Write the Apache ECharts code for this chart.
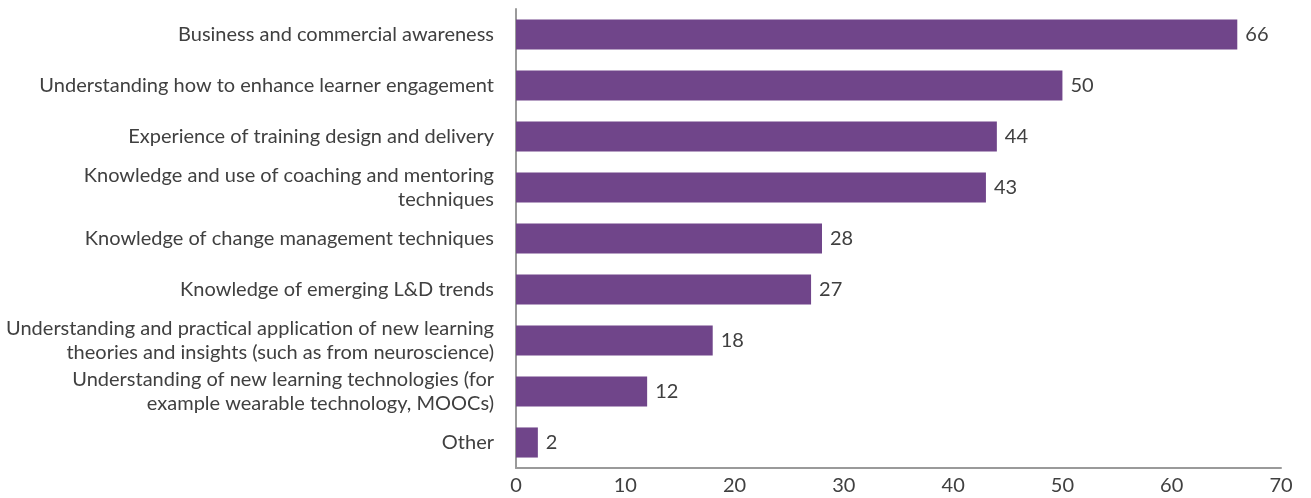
<!DOCTYPE html>
<html>
<head>
<meta charset="utf-8">
<script src="https://cdn.jsdelivr.net/npm/echarts@6/dist/echarts.min.js"></script>
<style>
  html, body { margin: 0; padding: 0; background: #fff; }
  #chart { width: 1311px; height: 498px; }
</style>
</head>
<body>
<div id="chart"></div>
<script>
// skills, top to bottom
var skills = [
  "Business and commercial awareness",
  "Understanding how to enhance learner engagement",
  "Experience of training design and delivery",
  "Knowledge and use of coaching and mentoring\ntechniques",
  "Knowledge of change management techniques",
  "Knowledge of emerging L&D trends",
  "Understanding and practical application of new learning\ntheories and insights (such as from neuroscience)",
  "Understanding of new learning technologies (for\nexample wearable technology, MOOCs)",
  "Other"
];
var values = [66, 50, 44, 43, 28, 27, 18, 12, 2];
var xTicks = [0, 10, 20, 30, 40, 50, 60, 70];

var textColor = "#404040";
var fontFamily = "Lato";

var myChart = echarts.init(document.getElementById("chart"));
var option = {
  animation: false,
  grid: {
    left: 516,
    right: 30,
    top: 9,
    bottom: 30,
    containLabel: false,
    outerBoundsMode: "none"
  },
  xAxis: {
    type: "value",
    min: xTicks[0],
    max: xTicks[xTicks.length - 1],
    interval: 10,
    axisLine: { show: true, lineStyle: { color: "#9a9a9a", width: 2 } },
    axisTick: { show: false },
    splitLine: { show: false },
    axisLabel: {
      color: textColor,
      fontFamily: fontFamily,
      fontSize: 20,
      margin: 8
    }
  },
  yAxis: {
    type: "category",
    inverse: true,
    data: skills,
    axisLine: { show: true, lineStyle: { color: "#9a9a9a", width: 2 } },
    axisTick: { show: false },
    axisLabel: {
      color: textColor,
      fontFamily: fontFamily,
      fontSize: 20,
      lineHeight: 24,
      margin: 22,
      align: "right"
    }
  },
  series: [
    {
      type: "bar",
      data: values,
      barCategoryGap: "41%",
      itemStyle: { color: "#70458a" },
      label: {
        show: true,
        position: "right",
        distance: 8,
        color: textColor,
        fontFamily: fontFamily,
        fontSize: 20
      }
    }
  ]
};
myChart.setOption(option);
</script>
</body>
</html>
